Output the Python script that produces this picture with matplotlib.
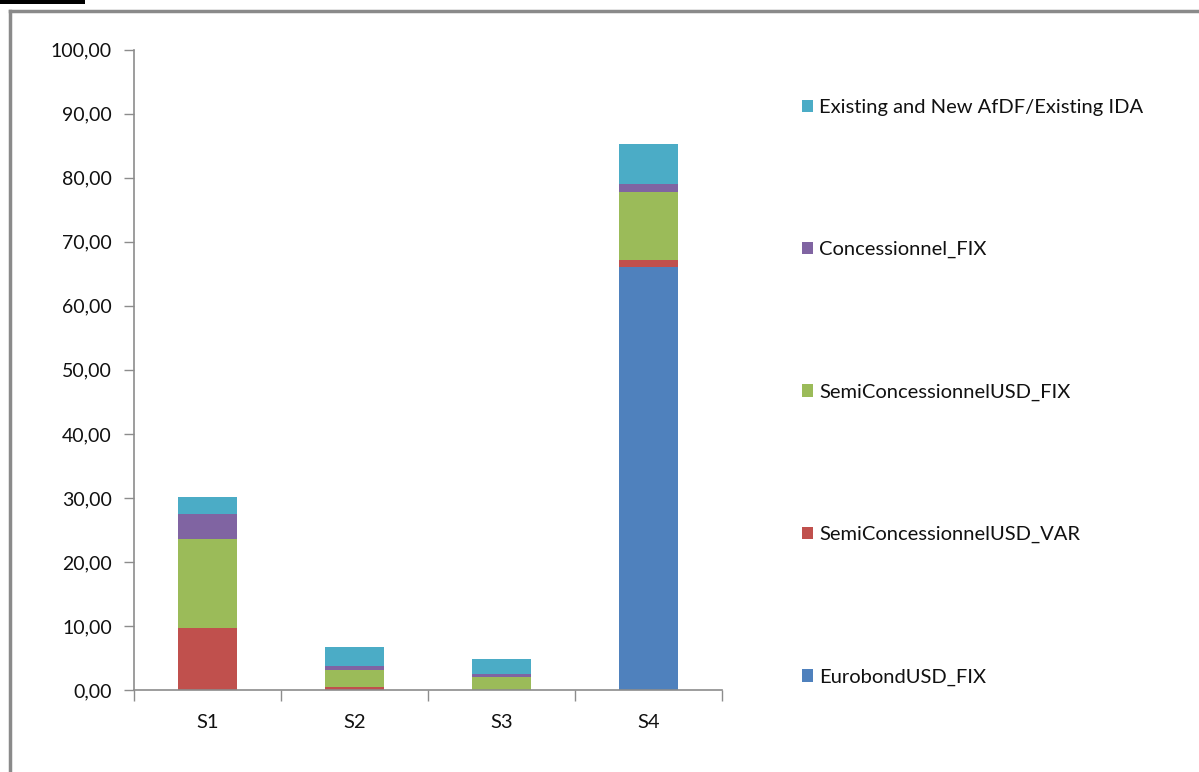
import matplotlib
matplotlib.use("Agg")
import matplotlib.pyplot as plt
import numpy as np
from matplotlib.lines import Line2D
from matplotlib.patches import Rectangle
from matplotlib.ticker import FixedLocator, FuncFormatter

# Scénarios et composition du portefeuille (stacked, bas -> haut)
scenarios = ["S1", "S2", "S3", "S4"]
eurobond_usd_fix = [0.0, 0.0, 0.0, 66.1]
semi_usd_var = [9.73, 0.47, 0.0, 1.1]
semi_usd_fix = [13.85, 2.6, 1.98, 10.6]
concessionnel_fix = [3.91, 0.68, 0.47, 1.3]
afdf_ida = [2.6, 2.92, 2.34, 6.1]

series_names = [
    "EurobondUSD_FIX",
    "SemiConcessionnelUSD_VAR",
    "SemiConcessionnelUSD_FIX",
    "Concessionnel_FIX",
    "Existing and New AfDF/Existing IDA",
]
series_values = [eurobond_usd_fix, semi_usd_var, semi_usd_fix, concessionnel_fix, afdf_ida]
colors = ["#4F81BD", "#C0504D", "#9BBB59", "#8064A2", "#4BACC6"]

plt.rcParams["font.family"] = ["Lato", "DejaVu Sans"]

fig = plt.figure(figsize=(11.99, 7.72), dpi=100)
ax = fig.add_axes([0.1118, 0.1062, 0.4906, 0.8294])

x = np.arange(len(scenarios))
bottom = np.zeros(len(scenarios))
handles = []
for name, vals, col in zip(series_names, series_values, colors):
    vals = np.array(vals)
    ax.bar(x, vals, width=0.4, bottom=bottom, color=col, edgecolor="none", label=name)
    handles.append(Rectangle((0, 0), 1, 1, facecolor=col, edgecolor="none"))
    bottom += vals

ax.set_xlim(-0.5, 3.5)
ax.set_ylim(0, 100)
ax.yaxis.set_major_locator(FixedLocator(np.arange(0, 101, 10)))
ax.yaxis.set_major_formatter(FuncFormatter(lambda v, p: f"{v:.2f}".replace(".", ",")))
ax.set_xticks(x)
ax.set_xticklabels(scenarios)
ax.set_xticks(np.arange(-0.5, 3.6, 1.0), minor=True)

axis_gray = "#8C8C8C"
text_col = "#111111"
for side in ["top", "right"]:
    ax.spines[side].set_visible(False)
for side in ["left", "bottom"]:
    ax.spines[side].set_color(axis_gray)
    ax.spines[side].set_linewidth(1.2)

ax.tick_params(axis="y", direction="out", length=7, width=1, color=axis_gray,
               labelsize=14, pad=9, labelcolor=text_col)
ax.tick_params(axis="x", which="major", length=0, labelsize=14.5, pad=17, labelcolor=text_col)
ax.tick_params(axis="x", which="minor", direction="out", length=8, width=1, color=axis_gray)

# Légende à droite, ordre inversé comme l'empilement
leg = fig.legend(handles[::-1], series_names[::-1], loc="upper left",
                 bbox_to_anchor=(0.669, 0.872), frameon=False, fontsize=14.5,
                 handlelength=0.55, handleheight=0.55, handletextpad=0.3,
                 labelspacing=6.22, borderaxespad=0, borderpad=0)
for t in leg.get_texts():
    t.set_color(text_col)

# Cadre du graphique et bas du titre coupé au-dessus
fig.add_artist(Line2D([10 / 1199, 10 / 1199], [0, 1 - 11 / 772], color="#8A8A8A", lw=2.5))
fig.add_artist(Line2D([10 / 1199, 1], [1 - 11 / 772, 1 - 11 / 772], color="#8A8A8A", lw=2.5))
fig.patches.append(Rectangle((0, 1 - 4 / 772), 85 / 1199, 4 / 772,
                             transform=fig.transFigure, facecolor="black", edgecolor="none"))

fig.savefig("out.png", dpi=100)
